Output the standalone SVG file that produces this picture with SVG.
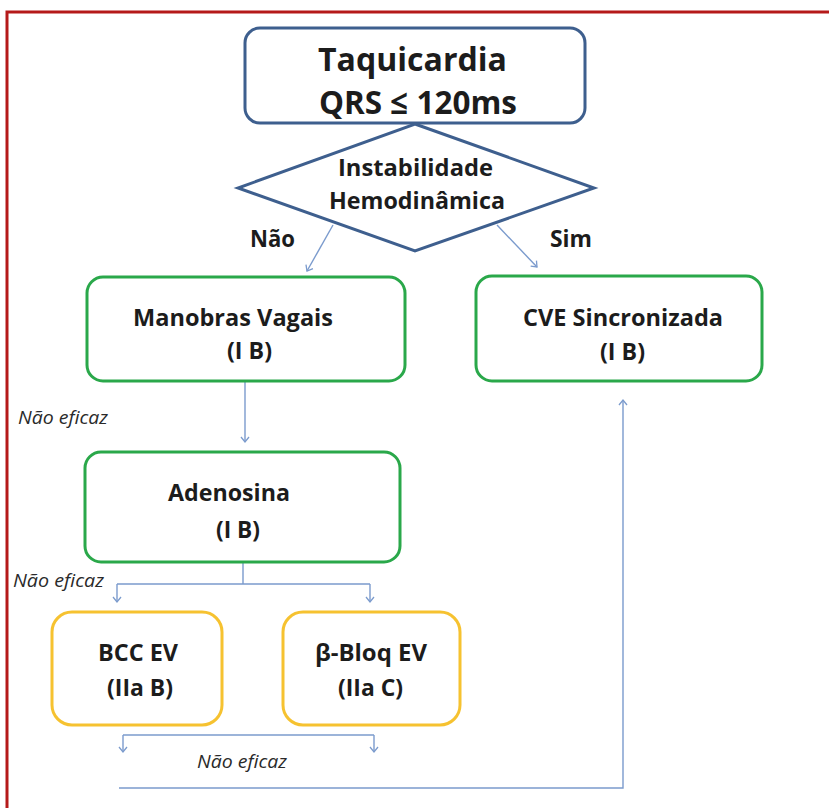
<svg xmlns="http://www.w3.org/2000/svg" width="829" height="808" viewBox="0 0 829 808">
  <defs>
    <marker id="arrow" markerWidth="12" markerHeight="12" refX="6" refY="6" orient="auto" markerUnits="userSpaceOnUse">
      <path d="M1,2 L6,6 L1,10" fill="none" stroke="#7b9bcd" stroke-width="1.3"/>
    </marker>
    <style>
      .blue { fill: #ffffff; stroke: #3e5f8e; stroke-width: 3; }
      .green { fill: #ffffff; stroke: #2aa84a; stroke-width: 3; }
      .yellow { fill: #ffffff; stroke: #f6c230; stroke-width: 3; }
      .t { font-family: "Open Sans", "Liberation Sans", sans-serif; font-weight: bold; fill: #1c1c1c; text-anchor: middle; }
      .title { font-size: 33px; }
      .lbl { font-size: 24px; }
      .note { font-family: "Open Sans", "Liberation Sans", sans-serif; font-style: italic; font-size: 18px; fill: #2a2a2a; }
      .conn { fill: none; stroke: #7b9bcd; stroke-width: 1.4; }
    </style>
  </defs>

  <rect width="829" height="808" fill="#ffffff"/>
  <!-- page frame -->
  <rect x="7" y="12" width="900" height="900" fill="none" stroke="#b51a1a" stroke-width="3"/>

  <!-- connectors -->
  <g id="connectors">
    <path class="conn" d="M333,225 L307,271" marker-end="url(#arrow)"/>
    <path class="conn" d="M497,225 L537,267" marker-end="url(#arrow)"/>
    <path class="conn" d="M245,381 V442" marker-end="url(#arrow)"/>
    <path class="conn" d="M243,562 V584 M117,584 H370"/>
    <path class="conn" d="M117,584 V602" marker-end="url(#arrow)"/>
    <path class="conn" d="M370,584 V602" marker-end="url(#arrow)"/>
    <path class="conn" d="M123,735 H374"/>
    <path class="conn" d="M123,735 V752" marker-end="url(#arrow)"/>
    <path class="conn" d="M374,735 V752" marker-end="url(#arrow)"/>
    <path class="conn" d="M119,788 H623 V400" marker-end="url(#arrow)"/>
    <text class="t lbl" x="272.5" y="247" textLength="45" lengthAdjust="spacingAndGlyphs">Não</text>
    <text class="t lbl" x="571" y="247" textLength="42" lengthAdjust="spacingAndGlyphs">Sim</text>
    <text class="note" x="18" y="424" textLength="90" lengthAdjust="spacingAndGlyphs">Não eficaz</text>
    <text class="note" x="13" y="587" textLength="91" lengthAdjust="spacingAndGlyphs">Não eficaz</text>
    <text class="note" x="197" y="768" textLength="90" lengthAdjust="spacingAndGlyphs">Não eficaz</text>
  </g>

  <g id="taquicardia">
    <rect class="blue" x="245" y="28" width="340" height="95" rx="15"/>
    <text class="t title" x="412.5" y="71" textLength="189" lengthAdjust="spacingAndGlyphs">Taquicardia</text>
    <text class="t title" x="418" y="114" textLength="198" lengthAdjust="spacingAndGlyphs">QRS ≤ 120ms</text>
  </g>

  <g id="instabilidade">
    <polygon class="blue" points="415,124 594,188 415,251 238,188"/>
    <text class="t lbl" x="415.5" y="176" textLength="155" lengthAdjust="spacingAndGlyphs">Instabilidade</text>
    <text class="t lbl" x="417" y="209" textLength="176" lengthAdjust="spacingAndGlyphs">Hemodinâmica</text>
  </g>

  <g id="manobras">
    <rect class="green" x="87" y="277" width="318" height="104" rx="16"/>
    <text class="t lbl" x="233" y="326" textLength="200" lengthAdjust="spacingAndGlyphs">Manobras Vagais</text>
    <text class="t lbl" x="249.5" y="359" textLength="45" lengthAdjust="spacingAndGlyphs">(I B)</text>
  </g>

  <g id="cve">
    <rect class="green" x="476" y="276" width="286" height="105" rx="16"/>
    <text class="t lbl" x="623" y="326" textLength="200" lengthAdjust="spacingAndGlyphs">CVE Sincronizada</text>
    <text class="t lbl" x="622.5" y="360" textLength="45" lengthAdjust="spacingAndGlyphs">(I B)</text>
  </g>

  <g id="adenosina">
    <rect class="green" x="85" y="452" width="315" height="110" rx="16"/>
    <text class="t lbl" x="229" y="501" textLength="122" lengthAdjust="spacingAndGlyphs">Adenosina</text>
    <text class="t lbl" x="238" y="538" textLength="44" lengthAdjust="spacingAndGlyphs">(I B)</text>
  </g>

  <g id="bcc">
    <rect class="yellow" x="52" y="612" width="170" height="113" rx="20"/>
    <text class="t lbl" x="138" y="661" textLength="80" lengthAdjust="spacingAndGlyphs">BCC EV</text>
    <text class="t lbl" x="140" y="696" textLength="66" lengthAdjust="spacingAndGlyphs">(IIa B)</text>
  </g>

  <g id="betabloq">
    <rect class="yellow" x="283" y="612" width="177" height="113" rx="20"/>
    <text class="t lbl" x="371" y="661" textLength="112" lengthAdjust="spacingAndGlyphs">β-Bloq EV</text>
    <text class="t lbl" x="370.5" y="696" textLength="65" lengthAdjust="spacingAndGlyphs">(IIa C)</text>
  </g>
</svg>
